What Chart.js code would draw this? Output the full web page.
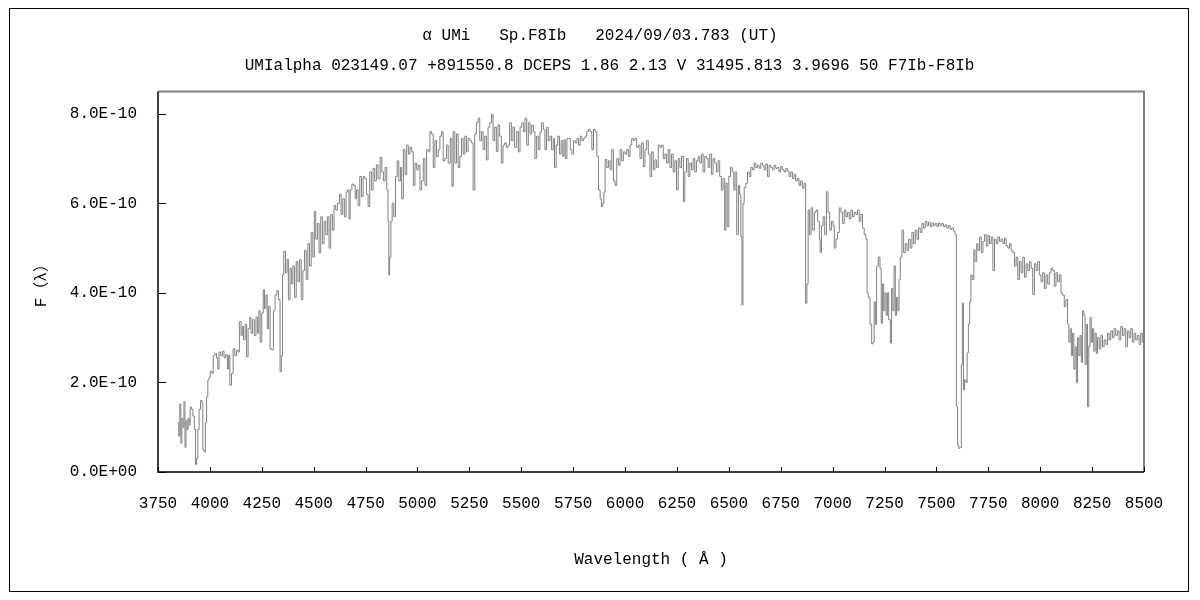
<!DOCTYPE html>
<html>
<head>
<meta charset="utf-8">
<script src="https://cdn.jsdelivr.net/npm/chart.js@4/dist/chart.umd.min.js"></script>
<style>
  html, body { margin: 0; padding: 0; background: #fff; }
  #wrap { width: 1200px; height: 600px; }
</style>
</head>
<body>
<div id="wrap"><canvas id="spectrumChart" width="1200" height="600"></canvas></div>
<script>
// alpha UMi spectrum, flux in units of 1E-10
var wavelength = [
  3845,3850,3855,3860,3865,3870,3875,3880,3885,3890,3895,3900,3905,3912,3918,3925,3931,3936,3942,3948,
  3955,3962,3966,3972,3978,3984,3990,3996,4002,4010,4016,4024,4032,4038,4044,4052,4060,4068,4076,4084,
  4090,4096,4104,4112,4120,4128,4136,4142,4150,4156,4162,4170,4177,4184,4192,4198,4206,4214,4222,4230,
  4236,4242,4250,4257,4263,4270,4276,4282,4290,4298,4306,4314,4322,4330,4338,4344,4350,4356,4364,4372,
  4378,4386,4394,4400,4408,4416,4424,4432,4440,4448,4456,4464,4472,4480,4488,4496,4503,4510,4518,4526,
  4534,4542,4550,4558,4566,4574,4582,4590,4598,4606,4614,4624,4632,4640,4648,4656,4662,4670,4676,4684,
  4692,4700,4706,4714,4722,4730,4738,4746,4754,4762,4770,4778,4786,4794,4802,4810,4820,4828,4836,4844,
  4852,4858,4862,4866,4872,4878,4886,4894,4902,4910,4918,4924,4932,4940,4948,4956,4964,4972,4980,4988,
  4996,5004,5012,5020,5028,5036,5044,5052,5060,5068,5076,5084,5092,5100,5108,5116,5124,5132,5140,5148,
  5158,5166,5172,5180,5188,5196,5204,5212,5220,5228,5236,5244,5252,5260,5268,5276,5284,5292,5300,5308,
  5316,5324,5332,5340,5348,5357,5364,5372,5380,5388,5396,5404,5412,5420,5428,5436,5444,5452,5460,5468,
  5478,5486,5494,5502,5510,5518,5526,5534,5542,5550,5558,5566,5574,5582,5590,5598,5606,5614,5622,5630,
  5638,5646,5654,5660,5668,5676,5684,5692,5700,5706,5712,5720,5728,5736,5744,5752,5760,5768,5776,5784,
  5792,5800,5808,5816,5824,5832,5840,5848,5856,5864,5872,5880,5886,5892,5898,5904,5912,5920,5928,5936,
  5944,5952,5960,5968,5976,5984,5992,6000,6008,6016,6024,6032,6040,6048,6056,6064,6072,6080,6088,6096,
  6104,6112,6120,6128,6136,6144,6152,6160,6168,6176,6184,6192,6200,6208,6216,6224,6232,6240,6248,6256,
  6264,6272,6281,6288,6296,6304,6312,6320,6328,6336,6344,6352,6360,6368,6376,6384,6392,6400,6408,6416,
  6424,6432,6440,6448,6456,6464,6472,6480,6486,6492,6500,6508,6516,6524,6530,6538,6546,6552,6558,6563,
  6568,6574,6582,6590,6598,6606,6614,6622,6630,6638,6646,6654,6662,6670,6678,6686,6694,6702,6710,6718,
  6726,6734,6742,6750,6758,6766,6774,6782,6790,6798,6806,6814,6822,6830,6838,6846,6854,6862,6870,6876,
  6882,6888,6896,6904,6912,6920,6928,6936,6940,6946,6954,6962,6970,6978,6986,6994,7002,7008,7016,7024,
  7032,7040,7048,7056,7064,7072,7080,7088,7096,7104,7112,7120,7128,7136,7144,7152,7160,7166,7172,7180,
  7188,7194,7200,7206,7212,7220,7228,7234,7240,7246,7252,7258,7264,7270,7278,7284,7290,7296,7302,7308,
  7314,7320,7326,7334,7342,7350,7358,7366,7374,7382,7390,7398,7406,7414,7422,7430,7438,7446,7454,7462,
  7470,7478,7486,7494,7502,7510,7518,7526,7534,7542,7550,7558,7566,7574,7582,7590,7596,7602,7608,7614,
  7620,7625,7630,7636,7642,7648,7654,7660,7666,7672,7680,7686,7694,7700,7708,7716,7724,7732,7740,7748,
  7756,7764,7772,7780,7788,7796,7804,7812,7820,7828,7836,7844,7852,7860,7868,7876,7884,7892,7900,7908,
  7916,7924,7932,7940,7948,7956,7964,7972,7980,7988,7996,8004,8012,8020,8028,8036,8044,8052,8060,8068,
  8076,8084,8092,8100,8108,8116,8124,8132,8138,8144,8150,8156,8162,8168,8174,8180,8186,8192,8198,8204,
  8210,8216,8222,8228,8234,8240,8246,8252,8258,8264,8270,8276,8284,8292,8300,8308,8316,8324,8332,8340,
  8348,8356,8364,8372,8380,8388,8396,8404,8412,8420,8428,8436,8444,8452,8460,8468,8476,8484,8492,8500
];
var flux = [
  1.10,0.80,1.52,0.64,1.20,1.00,1.57,0.55,1.15,0.95,1.20,1.05,1.45,1.40,1.25,0.95,0.17,0.30,0.95,1.40,
  1.60,1.55,0.50,0.45,1.10,1.68,2.05,2.12,2.25,2.20,2.60,2.65,2.55,2.30,2.68,2.60,2.70,2.55,2.62,2.30,
  2.60,1.94,2.20,2.75,2.60,2.72,2.68,3.36,3.05,3.25,2.95,3.30,2.57,3.20,3.45,3.10,3.40,3.05,3.46,3.10,
  3.60,2.90,3.55,4.07,3.65,3.95,3.20,3.70,2.75,2.73,3.60,3.95,4.05,3.85,2.24,2.60,4.40,4.93,4.45,4.75,
  3.85,4.55,4.20,4.60,3.90,4.70,4.25,4.74,3.85,4.50,4.95,4.30,5.10,4.60,5.35,4.80,5.82,5.20,5.55,4.90,
  5.70,5.10,5.60,5.30,5.70,5.00,5.75,5.40,5.95,5.85,6.00,6.20,5.75,6.10,5.70,6.25,6.30,5.65,6.30,6.43,
  6.40,6.10,6.30,5.95,6.60,6.15,6.60,6.55,6.20,5.93,6.70,6.30,6.78,6.50,6.86,6.55,7.03,6.70,6.50,6.80,
  6.30,5.60,4.40,4.80,5.60,6.00,5.70,6.60,6.95,6.50,6.80,6.10,7.20,6.65,7.30,7.10,7.25,7.15,6.40,6.90,
  6.75,6.85,6.30,6.50,7.00,6.40,7.20,7.15,7.60,7.55,6.80,7.40,7.05,7.20,7.50,7.60,6.95,7.00,7.30,6.90,
  7.45,6.38,7.60,6.90,7.55,6.80,7.05,7.45,7.10,7.50,7.15,7.45,7.40,7.35,6.30,7.55,7.80,7.90,7.40,7.60,
  7.20,7.50,6.97,7.70,7.80,7.99,7.40,7.70,7.16,7.75,7.50,6.90,7.30,7.35,7.25,7.30,7.80,7.40,7.70,7.25,
  7.60,7.15,7.70,7.80,7.60,7.90,7.30,7.80,7.55,7.75,7.60,7.00,7.50,7.20,7.60,7.80,7.65,7.20,7.70,7.40,
  7.50,7.20,7.45,6.80,7.30,7.50,7.10,7.40,7.05,7.42,7.00,7.45,7.45,7.20,7.10,7.40,7.35,7.45,7.30,7.50,
  7.40,7.45,7.50,7.60,7.65,7.60,7.20,7.65,7.60,7.05,6.30,6.10,5.93,6.00,6.25,6.98,6.80,6.95,6.75,7.20,
  6.50,6.40,7.00,6.85,7.20,6.95,7.15,7.10,7.20,7.05,7.30,7.45,7.40,7.45,7.25,7.30,7.00,7.35,6.82,7.20,
  7.40,7.10,6.60,7.15,6.75,6.97,6.80,7.30,7.25,7.30,7.00,7.10,6.90,7.20,6.80,7.10,6.70,6.95,6.30,7.00,
  6.80,7.05,6.04,6.70,7.00,6.60,6.90,6.75,7.00,6.70,6.95,7.05,6.90,7.10,6.70,7.05,7.00,6.80,7.10,6.65,
  7.00,6.90,6.70,6.95,6.60,6.30,6.55,5.40,6.45,5.48,6.60,6.80,6.70,6.30,6.70,5.30,6.40,6.20,5.26,3.73,
  6.00,6.35,6.45,6.70,6.60,6.80,6.75,6.90,6.80,6.85,6.78,6.90,6.85,6.75,6.88,6.60,6.85,6.80,6.75,6.85,
  6.78,6.80,6.70,6.82,6.75,6.70,6.78,6.72,6.60,6.70,6.55,6.65,6.50,6.55,6.40,6.50,6.34,6.45,3.77,4.20,
  5.85,5.30,5.90,5.40,5.80,5.85,5.60,5.20,4.90,5.50,5.70,5.30,6.26,5.80,5.40,5.60,5.50,5.00,5.20,5.35,
  5.90,5.80,5.55,5.85,5.70,5.80,5.65,5.85,5.70,5.80,5.75,5.85,5.60,5.75,5.45,5.30,5.20,4.00,3.90,3.30,
  2.86,2.90,3.80,3.30,4.60,4.80,4.55,3.32,4.20,3.60,4.00,3.50,4.00,3.40,2.88,4.10,3.60,4.60,3.50,3.90,
  3.60,4.30,4.80,5.40,4.90,5.10,4.95,5.20,5.00,5.35,5.10,5.40,5.20,5.45,5.35,5.55,5.45,5.60,5.50,5.58,
  5.48,5.56,5.50,5.55,5.48,5.56,5.50,5.55,5.48,5.52,5.45,5.50,5.42,5.45,5.38,5.30,1.46,0.60,0.53,0.55,
  2.40,3.77,1.84,2.06,2.00,2.66,3.30,3.80,4.40,4.30,4.96,4.70,5.10,4.95,5.25,4.90,5.15,5.30,5.05,5.28,
  5.10,5.25,4.50,5.20,5.10,5.25,5.15,5.20,5.10,5.22,5.05,5.00,5.10,4.95,4.90,4.60,4.80,4.30,4.70,4.45,
  4.80,4.35,4.65,4.50,4.70,4.55,3.96,4.65,4.50,4.70,4.40,4.25,4.45,4.10,4.40,4.20,4.45,4.55,4.50,4.15,
  4.45,4.25,4.40,4.00,3.95,3.70,3.85,3.30,2.90,3.20,2.60,3.10,2.30,2.80,2.00,3.00,2.60,3.05,2.45,3.60,
  3.50,2.40,3.30,1.46,2.80,3.45,2.90,3.20,2.70,3.10,2.65,3.00,2.75,3.05,2.80,2.95,2.85,3.10,2.95,3.15,
  3.00,3.20,3.05,3.15,2.95,3.25,3.05,3.20,2.80,3.15,3.00,3.20,2.90,3.10,2.95,3.05,2.85,3.10,2.90,2.28
];

var xMin = 3750, xMax = 8500, xStep = 250;
var yTicks = [0, 2e-10, 4e-10, 6e-10, 8e-10];
var yMax = 8.5e-10;

var titleText = 'α UMi   Sp.F8Ib   2024/09/03.783 (UT)';
var subtitleText = '  UMIalpha 023149.07 +891550.8 DCEPS 1.86 2.13 V 31495.813 3.9696 50 F7Ib-F8Ib';

var fontFamily = '"Liberation Mono", "DejaVu Sans Mono", "Noto Sans CJK JP", monospace';

function expLabel(v) {
  if (v === 0) return '0.0E+00';
  var e = Math.floor(Math.log10(Math.abs(v)) + 1e-9);
  var m = v / Math.pow(10, e);
  var s = e < 0 ? '-' : '+';
  return m.toFixed(1) + 'E' + s + String(Math.abs(e)).padStart(2, '0');
}

// frame, inward ticks and outer border
var framePlugin = {
  id: 'frame',
  afterDraw: function (chart) {
    var ctx = chart.ctx;
    var a = chart.chartArea;
    var xs = chart.scales.x, ys = chart.scales.y;
    ctx.save();
    // outer border
    ctx.strokeStyle = '#000';
    ctx.lineWidth = 1;
    ctx.strokeRect(9.5, 8.5, 1179, 583);
    // top and right in grey
    ctx.strokeStyle = '#808080';
    ctx.lineWidth = 2;
    ctx.beginPath();
    ctx.moveTo(a.left, a.top);
    ctx.lineTo(a.right, a.top);
    ctx.lineTo(a.right, a.bottom);
    ctx.stroke();
    // left and bottom axes
    ctx.strokeStyle = '#000';
    ctx.lineWidth = 1.5;
    ctx.beginPath();
    ctx.moveTo(a.left, a.top);
    ctx.lineTo(a.left, a.bottom);
    ctx.lineTo(a.right, a.bottom);
    ctx.stroke();
    ctx.lineWidth = 1;
    ctx.beginPath();
    xs.ticks.forEach(function (t) {
      var px = Math.round(xs.getPixelForValue(t.value)) + 0.5;
      ctx.moveTo(px, a.bottom);
      ctx.lineTo(px, a.bottom - 5);
    });
    ys.ticks.forEach(function (t) {
      var py = Math.round(ys.getPixelForValue(t.value)) + 0.5;
      ctx.moveTo(a.left, py);
      ctx.lineTo(a.left + 8, py);
    });
    ctx.stroke();
    ctx.restore();
  }
};

var ctxEl = document.getElementById('spectrumChart');

var spectrumChart = new Chart(ctxEl, {
  type: 'line',
  data: {
    datasets: [{
      data: wavelength.map(function (w, i) { return { x: w, y: flux[i] * 1e-10 }; }),
      borderColor: '#808080',
      borderWidth: 1,
      pointRadius: 0,
      stepped: true,
      fill: false
    }]
  },
  options: {
    responsive: false,
    animation: false,
    devicePixelRatio: 1,
    layout: { padding: { left: 0, right: 0, top: 0, bottom: 0 } },
    scales: {
      x: {
        type: 'linear',
        min: xMin,
        max: xMax,
        grid: { display: false, drawTicks: false },
        border: { display: false },
        ticks: {
          stepSize: xStep,
          padding: 22,
          maxRotation: 0,
          autoSkip: false,
          color: '#000',
          font: { family: fontFamily, size: 16 },
          callback: function (v) { return String(v); }
        },
        title: {
          display: true,
          text: 'Wavelength ( Å )',
          color: '#000',
          font: { family: fontFamily, size: 16 },
          padding: { top: 0, bottom: 31 }
        },
        afterFit: function (scale) { scale.height = 128; }
      },
      y: {
        type: 'linear',
        min: 0,
        max: yMax,
        grid: { display: false, drawTicks: false },
        border: { display: false },
        afterBuildTicks: function (scale) {
          scale.ticks = yTicks.map(function (v) { return { value: v }; });
        },
        ticks: {
          padding: 21,
          color: '#000',
          font: { family: fontFamily, size: 16 },
          callback: function (v) { return expLabel(v); }
        },
        title: {
          display: true,
          text: 'F（λ）',
          color: '#000',
          font: { family: fontFamily, size: 16 },
          padding: { top: 32, bottom: 0 }
        },
        afterFit: function (scale) { scale.width = 158; }
      },
      // empty right-hand strip so the plot ends at 8500 like the original
      yRight: {
        type: 'linear',
        position: 'right',
        display: true,
        grid: { display: false, drawTicks: false },
        border: { display: false },
        ticks: { display: false },
        afterFit: function (scale) { scale.width = 56; }
      }
    },
    plugins: {
      legend: { display: false },
      tooltip: { enabled: false },
      title: {
        display: true,
        text: titleText,
        color: '#000',
        font: { family: fontFamily, size: 16, weight: 'normal' },
        padding: { top: 26, bottom: 5 }
      },
      subtitle: {
        display: true,
        text: subtitleText,
        color: '#000',
        font: { family: fontFamily, size: 16, weight: 'normal' },
        padding: { top: 6, bottom: 16 }
      }
    }
  },
  plugins: [framePlugin]
});
</script>
</body>
</html>
